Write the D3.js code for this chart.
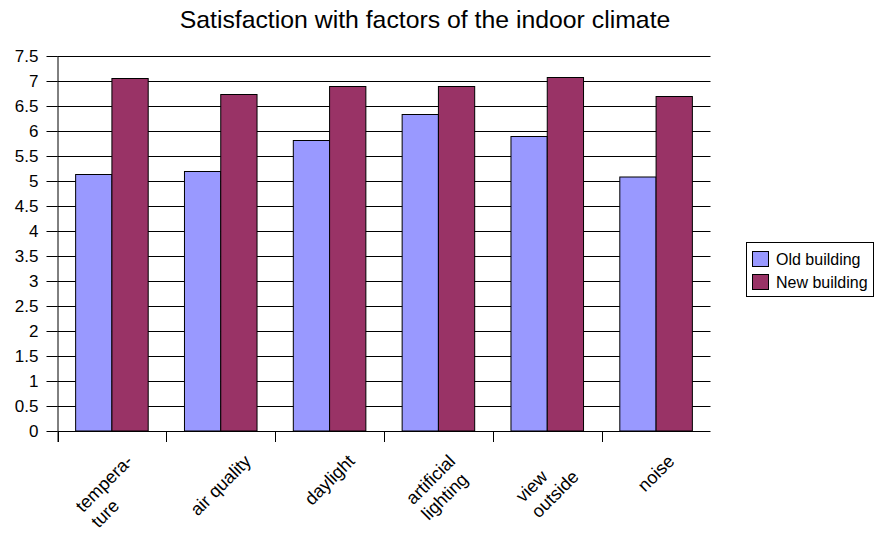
<!DOCTYPE html>
<html>
<head>
<meta charset="utf-8">
<script src="https://cdn.jsdelivr.net/npm/d3@7"></script>
<style>
  html, body { margin: 0; padding: 0; background: #fff; }
  svg { display: block; font-family: "Liberation Sans", Arial, sans-serif; }
</style>
</head>
<body>
<svg id="chart" width="878" height="537"></svg>
<script>
// Category labels (line breaks as drawn on the axis)
const categories = [
  ["tempera-", "ture"],
  ["air quality"],
  ["daylight"],
  ["artificial", "lighting"],
  ["view", "outside"],
  ["noise"]
];
const seriesNames = ["Old building", "New building"];
const oldBuilding = [5.13, 5.19, 5.81, 6.33, 5.89, 5.08];
const newBuilding = [7.05, 6.73, 6.89, 6.89, 7.07, 6.69];
const yTicks = [0, 0.5, 1, 1.5, 2, 2.5, 3, 3.5, 4, 4.5, 5, 5.5, 6, 6.5, 7, 7.5];
const colors = ["#9999FF", "#993366"];

const svg = d3.select("#chart");
const plot = { left: 57.5, right: 710.5, top: 56, bottom: 431 };

const x = d3.scaleBand()
  .domain(d3.range(categories.length))
  .range([plot.left, plot.right])
  .paddingInner(0).paddingOuter(0);

const xs = d3.scaleBand()
  .domain([0, 1])
  .range([0, x.bandwidth()])
  .paddingInner(0).paddingOuter(0.5);

const y = d3.scaleLinear().domain([0, 7.5]).range([plot.bottom, plot.top]);

// Title
svg.append("text")
  .attr("x", 425).attr("y", 28)
  .attr("text-anchor", "middle")
  .attr("font-size", 24.8)
  .attr("fill", "#000")
  .text("Satisfaction with factors of the indoor climate");

// Horizontal gridlines
svg.append("g")
  .selectAll("line")
  .data(yTicks.filter(v => v > 0))
  .join("line")
  .attr("x1", plot.left).attr("x2", plot.right)
  .attr("y1", d => Math.round(y(d)) + 0.5).attr("y2", d => Math.round(y(d)) + 0.5)
  .attr("stroke", "#000").attr("stroke-width", 1);

// Bars
const series = [oldBuilding, newBuilding];
series.forEach((vals, si) => {
  svg.append("g")
    .selectAll("rect")
    .data(vals)
    .join("rect")
    .attr("x", (d, i) => x(i) + xs(si))
    .attr("y", d => y(d))
    .attr("width", xs.bandwidth())
    .attr("height", d => y(0) - y(d))
    .attr("fill", colors[si])
    .attr("stroke", "#000")
    .attr("stroke-width", 1);
});

// Y axis
const yAxis = d3.axisLeft(y)
  .tickValues(yTicks)
  .tickSize(11)
  .tickPadding(8)
  .tickFormat(d => d3.format("")(d));
const gy = svg.append("g")
  .attr("transform", `translate(${plot.left},0)`)
  .call(yAxis);
gy.select(".domain").attr("d", `M0.5,${plot.top}V${plot.bottom + 11}`).attr("stroke", "#000");
gy.selectAll(".tick line").attr("stroke", "#000");
gy.selectAll(".tick text")
  .attr("font-size", 17)
  .attr("font-family", "Liberation Sans, Arial, sans-serif")
  .attr("fill", "#000");

// X axis baseline and category separator ticks
svg.append("line")
  .attr("x1", plot.left).attr("x2", plot.right)
  .attr("y1", plot.bottom + 0.5).attr("y2", plot.bottom + 0.5)
  .attr("stroke", "#000");
svg.append("g")
  .selectAll("line")
  .data(d3.range(categories.length))
  .join("line")
  .attr("x1", i => Math.round(x(i)) + 0.5).attr("x2", i => Math.round(x(i)) + 0.5)
  .attr("y1", plot.bottom).attr("y2", plot.bottom + 11)
  .attr("stroke", "#000");

// Rotated category labels, block centred under each category
const lineHeight = 22;
const labelTop = 451;
const c = Math.SQRT1_2;
categories.forEach((lines, i) => {
  const g = svg.append("g");
  const t = g.append("text")
    .attr("font-size", 18)
    .attr("fill", "#000");
  lines.forEach((ln, k) => {
    t.append("tspan").attr("x", 0).attr("y", k * lineHeight).text(ln);
  });
  const b = t.node().getBBox();
  const corners = [[b.x, b.y], [b.x + b.width, b.y], [b.x, b.y + b.height], [b.x + b.width, b.y + b.height]]
    .map(([px, py]) => [c * (px + py), c * (py - px)]);
  const minX = d3.min(corners, p => p[0]), maxX = d3.max(corners, p => p[0]);
  const minY = d3.min(corners, p => p[1]);
  const cx = x(i) + x.bandwidth() / 2;
  g.attr("transform", `translate(${cx - (minX + maxX) / 2},${labelTop - minY}) rotate(-45)`);
});

// Legend
const legend = svg.append("g");
legend.append("rect")
  .attr("x", 746.5).attr("y", 242.5)
  .attr("width", 127).attr("height", 54)
  .attr("fill", "#fff").attr("stroke", "#000");
seriesNames.forEach((name, i) => {
  legend.append("rect")
    .attr("x", 752.5).attr("y", 251.5 + i * 23)
    .attr("width", 16).attr("height", 15)
    .attr("fill", colors[i]).attr("stroke", "#000");
  legend.append("text")
    .attr("x", 776).attr("y", 264.5 + i * 23)
    .attr("font-size", 16)
    .attr("fill", "#000")
    .text(name);
});
</script>
</body>
</html>
